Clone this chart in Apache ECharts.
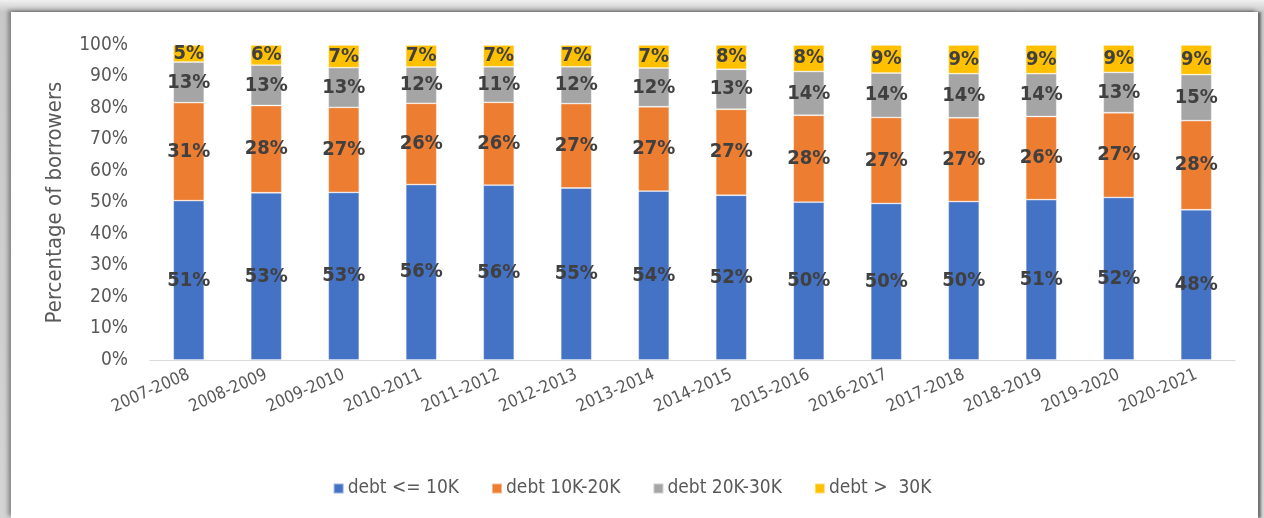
<!DOCTYPE html>
<html>
<head>
<meta charset="utf-8">
<script src="https://cdn.jsdelivr.net/npm/echarts@6/dist/echarts.min.js"></script>
<style>
  html, body { margin: 0; padding: 0; }
  body {
    width: 1264px; height: 518px; overflow: hidden; position: relative;
    background: linear-gradient(#f0f0f0, #c8c8c8 12px, #d4d4d4);
  }
  #panel {
    position: absolute; left: 11px; top: 12px; width: 1247px; height: 506px;
    background: #fff;
    box-shadow: -3px -2px 4px rgba(0,0,0,0.35), 3px 0 2px rgba(0,0,0,0.45);
  }
  #chart { position: absolute; left: 0; top: 0; width: 1264px; height: 518px; }
</style>
</head>
<body>
<div id="panel"></div>
<div id="chart"></div>
<script>
// years
const categories = ['2007-2008','2008-2009','2009-2010','2010-2011','2011-2012','2012-2013','2013-2014',
  '2014-2015','2015-2016','2016-2017','2017-2018','2018-2019','2019-2020','2020-2021']

// share of borrowers per debt band (%)
const debtUnder10 = [50.6, 53.1, 53.2, 55.7, 55.5, 54.6, 53.6, 52.3, 50.1, 49.7, 50.3, 50.9, 51.6, 47.7]
const debt10to20  = [31.1, 27.7, 27.0, 25.8, 26.3, 26.8, 26.8, 27.3, 27.6, 27.3, 26.6, 26.4, 26.9, 28.3]
const debt20to30  = [12.9, 12.8, 12.6, 11.5, 11.3, 11.7, 12.3, 12.7, 13.9, 14.1, 14.0, 13.6, 12.8, 14.6]
const debtOver30  = [5.4, 6.4, 7.2, 7.0, 6.9, 6.9, 7.3, 7.7, 8.4, 8.9, 9.1, 9.1, 8.7, 9.4]

const seriesNames = ['debt <= 10K', 'debt 10K-20K', 'debt 20K-30K', 'debt >  30K']
const colorArr = ['#4472C4', '#ED7D31', '#A5A5A5', '#FFC000']

const narrow = "'Liberation Sans Narrow', 'DejaVu Sans Condensed', 'Roboto', sans-serif"

var myChart = echarts.init(document.getElementById('chart'))

function makeSeries(name, data, idx) {
  return {
    name: name,
    type: 'bar',
    stack: 'total',
    data: data,
    barWidth: '40%',
    itemStyle: {
      color: colorArr[idx],
      borderColor: 'rgba(255,255,255,0.45)',
      borderWidth: 0.8
    },
    label: {
      show: true,
      position: 'inside',
      formatter: function (p) { return Math.round(p.value) + '%' },
      color: '#404040',
      fontFamily: narrow,
      fontWeight: 'bold',
      fontSize: 20
    }
  }
}

var option = {
  animation: false,
  grid: {
    left: 150,
    right: 29,
    top: 45,
    bottom: 158
  },
  legend: {
    bottom: 15,
    left: 'center',
    icon: 'rect',
    itemWidth: 10,
    itemHeight: 10,
    itemGap: 32,
    textStyle: {
      color: '#595959',
      fontFamily: narrow,
      fontSize: 19,
      padding: [0, 0, 0, -1]
    },
    data: seriesNames
  },
  xAxis: {
    type: 'category',
    data: categories,
    axisLine: { lineStyle: { color: '#d9d9d9', width: 1 } },
    axisTick: { show: false },
    axisLabel: {
      interval: 0,
      rotate: 24,
      color: '#595959',
      fontFamily: narrow,
      fontSize: 17,
      margin: 14
    }
  },
  yAxis: {
    type: 'value',
    min: 0,
    max: 100,
    interval: 10,
    name: 'Percentage of borrowers',
    nameLocation: 'middle',
    nameGap: 84,
    nameTextStyle: {
      color: '#595959',
      fontFamily: narrow,
      fontSize: 22
    },
    splitLine: { show: false },
    axisLine: { show: false },
    axisTick: { show: false },
    axisLabel: {
      formatter: '{value}%',
      color: '#595959',
      fontFamily: narrow,
      fontSize: 19,
      margin: 22
    }
  },
  series: [
    makeSeries(seriesNames[0], debtUnder10, 0),
    makeSeries(seriesNames[1], debt10to20, 1),
    makeSeries(seriesNames[2], debt20to30, 2),
    makeSeries(seriesNames[3], debtOver30, 3)
  ]
}
myChart.setOption(option)
</script>
</body>
</html>
